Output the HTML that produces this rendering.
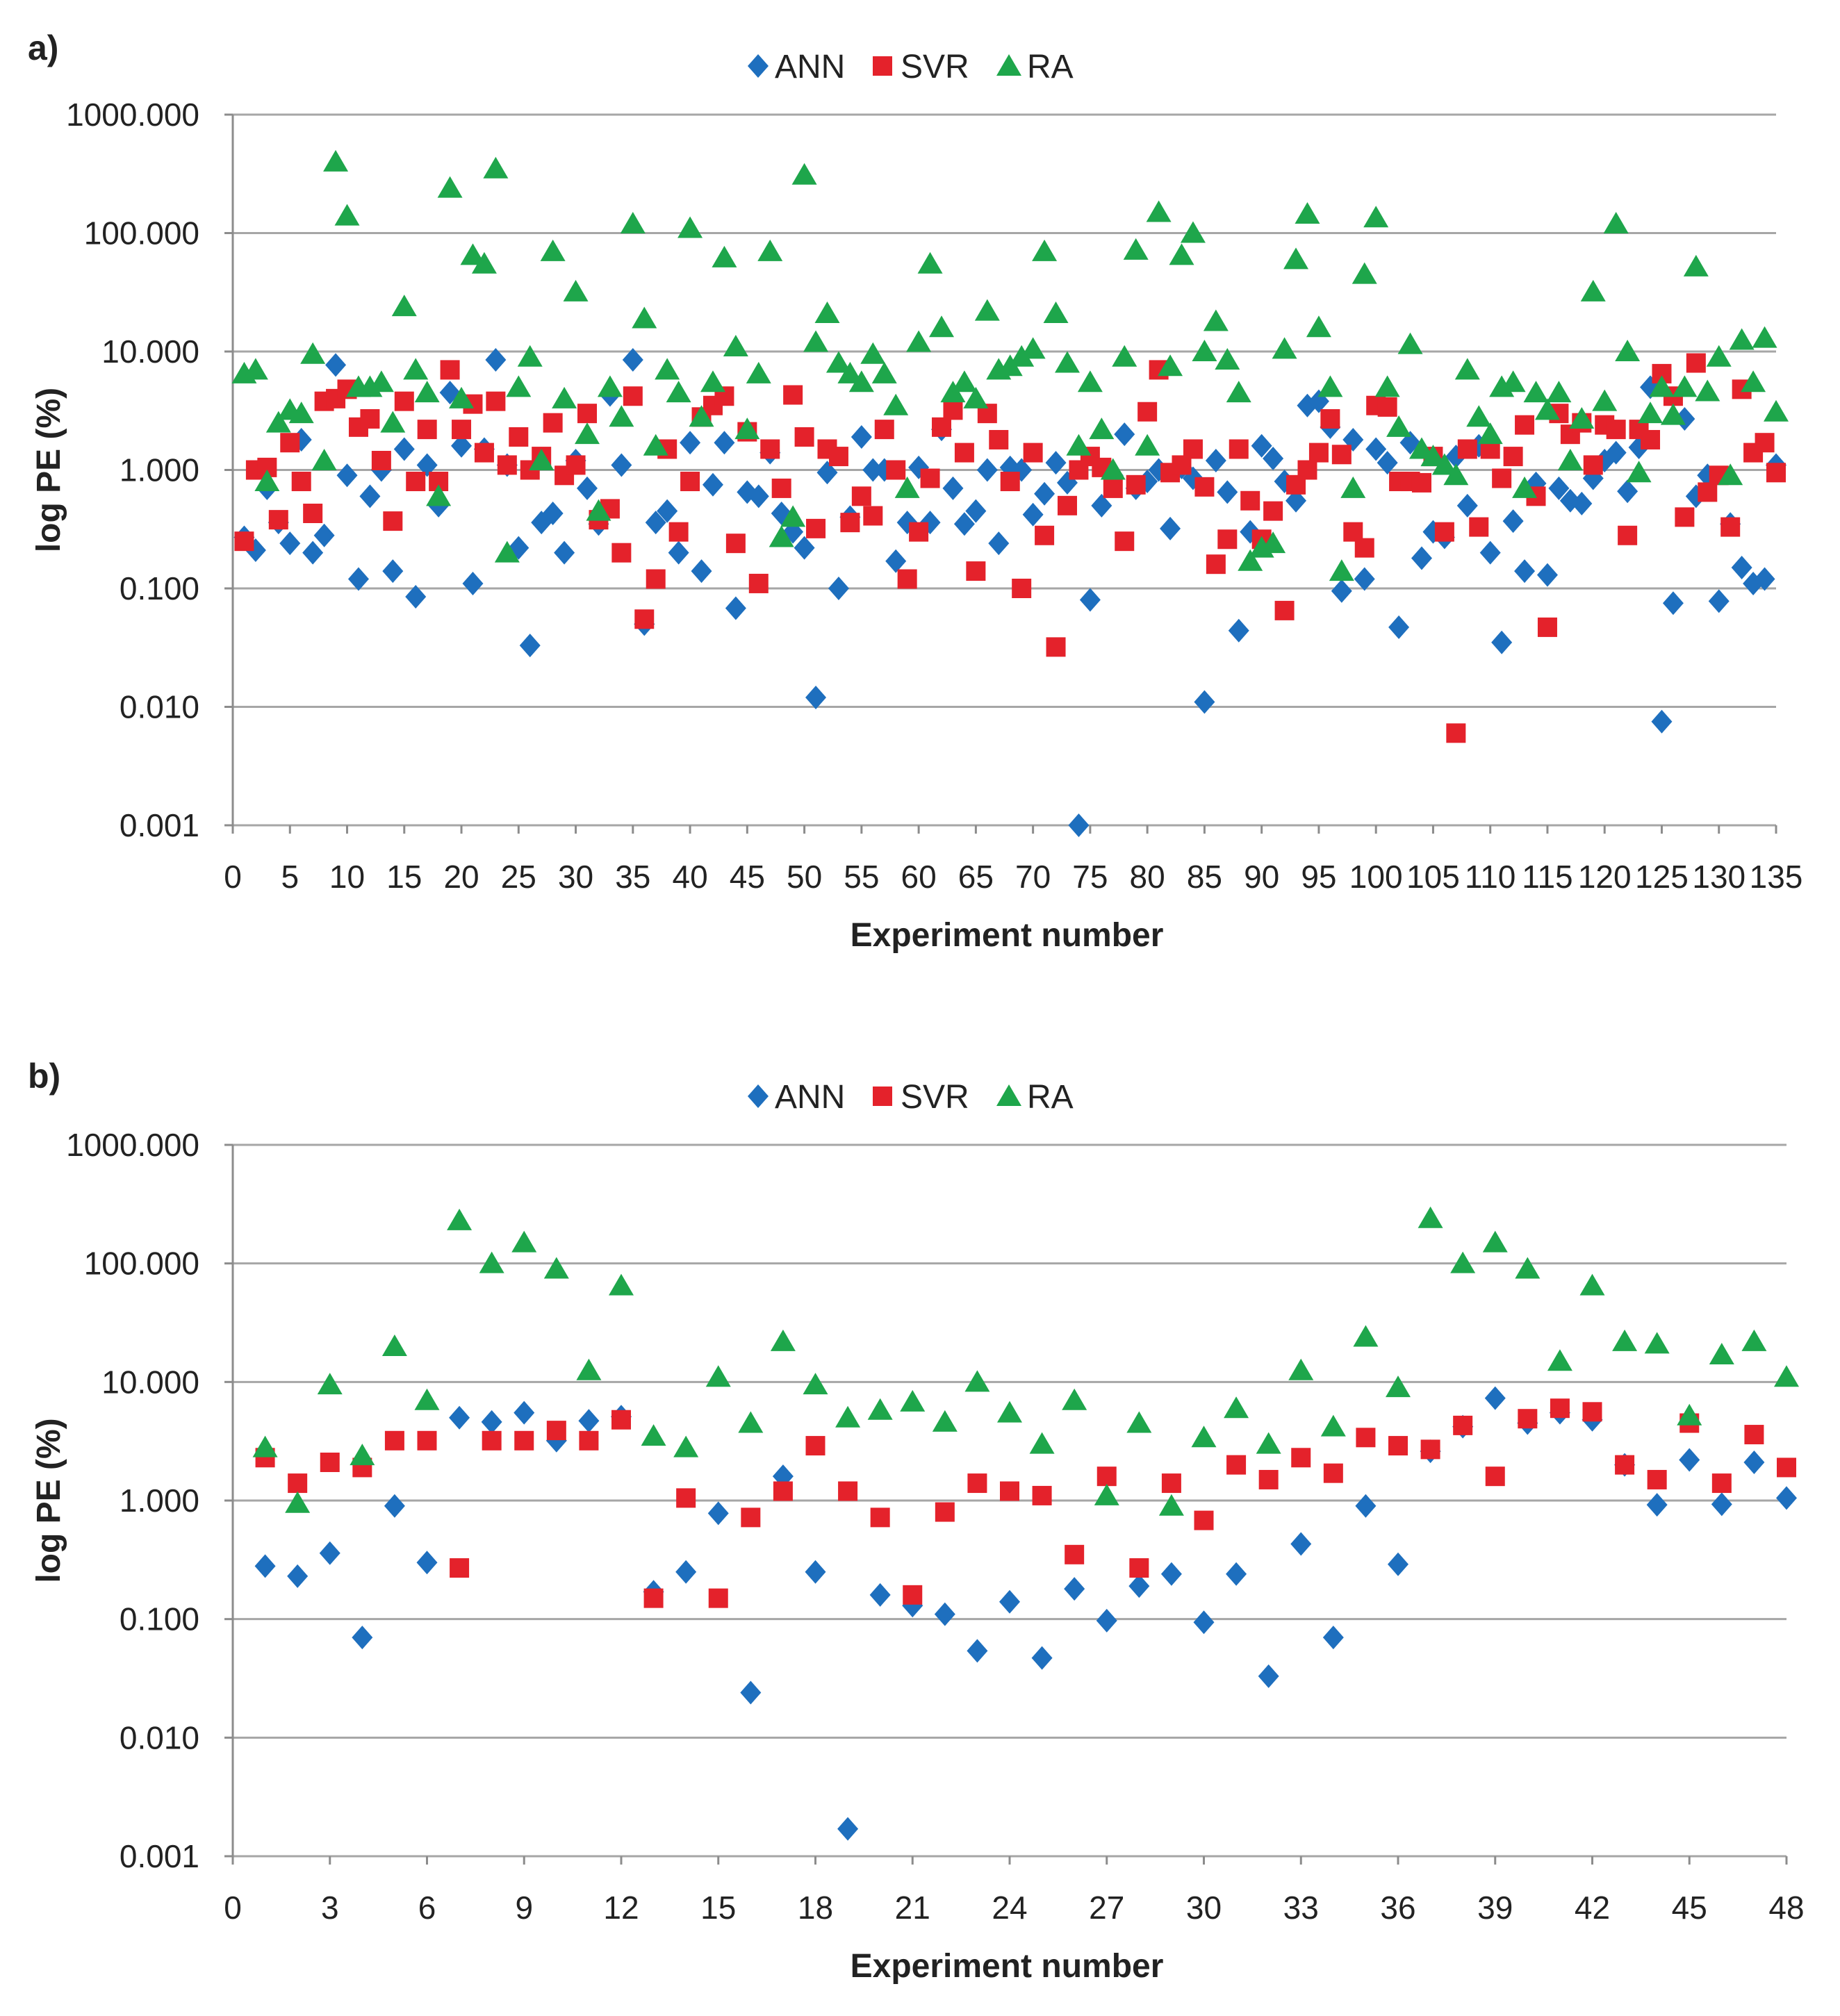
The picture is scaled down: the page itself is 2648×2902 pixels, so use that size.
<!DOCTYPE html>
<html><head><meta charset="utf-8"><style>
html,body{margin:0;padding:0;background:#fff}
svg{display:block;font-family:"Liberation Sans",sans-serif}
</style></head><body>
<svg id="c" xmlns="http://www.w3.org/2000/svg" width="2648" height="2902" viewBox="0 0 2648 2902"></svg>
<script>
const annA=[0.27,0.21,0.7,0.36,0.24,1.8,0.2,0.28,7.7,0.9,0.12,0.6,1.0,0.14,1.5,0.085,1.1,0.5,4.5,1.6,0.11,1.5,8.5,1.1,0.22,0.033,0.36,0.43,0.2,1.2,0.7,0.35,4.3,1.1,8.5,0.05,0.36,0.45,0.2,1.7,0.14,0.75,1.7,0.068,0.65,0.6,1.4,0.43,0.3,0.22,0.012,0.95,0.1,0.4,1.9,1.0,1.0,0.17,0.36,1.05,0.36,2.2,0.7,0.35,0.45,1.0,0.24,1.05,1.0,0.42,0.63,1.15,0.78,0.001,0.08,0.5,0.9,2.0,0.7,0.8,1.0,0.32,1.05,0.85,0.011,1.2,0.65,0.044,0.3,1.6,1.25,0.8,0.55,3.5,3.8,2.3,0.095,1.8,0.12,1.5,1.15,0.047,1.7,0.18,0.3,0.27,1.3,0.5,1.6,0.2,0.035,0.37,0.14,0.77,0.13,0.7,0.55,0.52,0.85,1.2,1.4,0.66,1.55,5,0.0075,0.075,2.7,0.6,0.9,0.078,0.35,0.15,0.11,0.12,1.1];
const svrA=[0.25,1.0,1.05,0.38,1.7,0.8,0.43,3.8,4.0,4.8,2.3,2.7,1.2,0.37,3.8,0.8,2.2,0.8,7.0,2.2,3.6,1.4,3.8,1.1,1.9,1.0,1.3,2.5,0.9,1.1,3.0,0.38,0.47,0.2,4.2,0.055,0.12,1.5,0.3,0.8,2.8,3.5,4.2,0.24,2.1,0.11,1.5,0.7,4.3,1.9,0.32,1.5,1.3,0.36,0.6,0.41,2.2,1.0,0.12,0.3,0.85,2.3,3.2,1.4,0.14,3.0,1.8,0.8,0.1,1.4,0.28,0.032,0.5,1.0,1.3,1.05,0.7,0.25,0.75,3.1,7.0,0.95,1.1,1.5,0.72,0.16,0.26,1.5,0.55,0.26,0.45,0.065,0.75,1.0,1.4,2.7,1.35,0.3,0.22,3.5,3.4,0.8,0.8,0.78,1.3,0.3,0.006,1.5,0.33,1.5,0.85,1.3,2.4,0.6,0.047,3.0,2.0,2.5,1.1,2.4,2.2,0.28,2.2,1.8,6.5,4.2,0.4,8.0,0.65,0.9,0.33,4.8,1.4,1.7,0.95];
const raA=[6.5,7,0.8,2.5,3.2,3,9.5,1.2,400,140,5,5,5.5,2.5,24,7,4.5,0.6,240,4,65,55,350,0.2,5,9,1.2,70,4,32,2,0.45,5,2.8,120,19,1.6,7,4.5,110,2.8,5.5,62,11,2.2,6.5,70,0.27,0.4,310,12,21,8,6.5,5.5,9.5,6.5,3.5,0.7,12,55,16,4.5,5.5,4,22,7,7.5,9,10.5,70,21,8,1.6,5.5,2.2,1,9,72,1.6,150,7.5,65,100,10,18,8.5,4.5,0.17,0.22,0.24,10.5,60,145,16,5,0.14,0.7,45,135,5,2.3,11.5,1.5,1.3,1.1,0.9,7,2.8,2,5,5.5,0.7,4.5,3.2,4.5,1.2,2.7,32,3.8,120,10,0.95,3,5,2.9,5,52,4.6,9,0.9,12.5,5.5,13,3.1];
const annB=[0.28,0.23,0.36,0.07,0.9,0.3,5,4.6,5.5,3.2,4.7,5.1,0.17,0.25,0.78,0.024,1.6,0.25,0.0017,0.16,0.13,0.11,0.054,0.14,0.047,0.18,0.097,0.19,0.24,0.094,0.24,0.033,0.43,0.07,0.9,0.29,2.6,4.2,7.3,4.5,5.5,4.8,2.0,0.92,2.2,0.93,2.1,1.05];
const svrB=[2.3,1.4,2.1,1.9,3.2,3.2,0.27,3.2,3.2,3.9,3.2,4.8,0.15,1.05,0.15,0.72,1.2,2.9,1.2,0.72,0.16,0.8,1.4,1.2,1.1,0.35,1.6,0.27,1.4,0.68,2.0,1.5,2.3,1.7,3.4,2.9,2.7,4.3,1.6,4.9,6.0,5.6,2.0,1.5,4.5,1.4,3.6,1.9];
const raB=[2.8,0.95,9.5,2.4,20,7,230,100,150,90,12.5,65,3.5,2.8,11,4.5,22,9.5,5,5.8,6.8,4.6,10,5.5,3,7,1.1,4.5,0.9,3.4,6,3,12.5,4.2,24,9,240,100,150,90,15,65,22,21,5.2,17,22,11];
const yTickLabels=["1000.000","100.000","10.000","1.000","0.100","0.010","0.001"];
const xTicksA=[0,5,10,15,20,25,30,35,40,45,50,55,60,65,70,75,80,85,90,95,100,105,110,115,120,125,130,135];
const xTicksB=[0,3,6,9,12,15,18,21,24,27,30,33,36,39,42,45,48];

const NS="http://www.w3.org/2000/svg";
const svg=document.getElementById('c');
function mk(tag,attrs,parent){const e=document.createElementNS(NS,tag);for(const k in attrs)e.setAttribute(k,attrs[k]);(parent||svg).appendChild(e);return e;}
const BLUE="#1e6fbe",RED="#e4222b",GREEN="#1ea64b";
function marker(g,type,x,y){
  let e;
  if(type==='d'){e=mk('polygon',{points:`${x},${y-17} ${x+15},${y} ${x},${y+17} ${x-15},${y}`,fill:BLUE},g);}
  else if(type==='s'){e=mk('rect',{x:x-14,y:y-14,width:28,height:28,fill:RED},g);}
  else {e=mk('polygon',{points:`${x},${y-17} ${x+18},${y+14} ${x-18},${y+14}`,fill:GREEN},g);}
  return e;
}
function chart(id,o){
  const g=mk('g',{});
  
  
  const L=335,R=o.right,T=o.top,B=o.bottom;
  const yS=v=>T+(3-Math.log10(v))*(B-T)/6;
  const xS=i=>L+i*(R-L)/o.xmax;
  yTickLabels.forEach((lab,k)=>{
    const y=T+k*(B-T)/6;
    const ln=mk('line',{x1:L,x2:R,y1:y,y2:y,stroke:"#a6a6a6","stroke-width":3},g);
    
    
    mk('line',{x1:L-12,x2:L,y1:y,y2:y,stroke:"#8c8c8c","stroke-width":3},g);
    const t=mk('text',{x:L-48,y:y+16,"text-anchor":"end","font-size":46,fill:"#222"},g);
    t.textContent=lab;
    
    
  });
  mk('line',{x1:L,x2:L,y1:T,y2:B,stroke:"#8c8c8c","stroke-width":3},g);
  o.xticks.forEach(v=>{
    const x=xS(v);
    mk('line',{x1:x,x2:x,y1:B,y2:B+12,stroke:"#8c8c8c","stroke-width":3},g);
    const t=mk('text',{x:x,y:B+90,"text-anchor":"middle","font-size":46,fill:"#222"},g);
    t.textContent=v;
    
    
  });
  const series=[[o.ann,'d','ann-point'],[o.svr,'s','svr-point'],[o.ra,'t','ra-point']];
  series.forEach(([arr,type,name])=>{
    arr.forEach((v,i)=>{
      const m=marker(g,type,xS(i+1),yS(v));
      
      
    });
  });
  const lg=mk('g',{},g);
  
  
  const ly=o.legendY;
  marker(lg,'d',1091,ly);
  let t=mk('text',{x:1115,y:ly+17,"font-size":48,fill:"#222"},lg);t.textContent="ANN";
  marker(lg,'s',1270,ly);
  t=mk('text',{x:1296,y:ly+17,"font-size":48,fill:"#222"},lg);t.textContent="SVR";
  marker(lg,'t',1452,ly);
  t=mk('text',{x:1478,y:ly+17,"font-size":48,fill:"#222"},lg);t.textContent="RA";
  t=mk('text',{x:40,y:o.labelY,"font-size":50,"font-weight":"bold",fill:"#222"},g);t.textContent=o.label;
  
  
  const cy=(T+B)/2;
  t=mk('text',{x:0,y:0,"font-size":48,"font-weight":"bold",fill:"#222","text-anchor":"middle",transform:`translate(86,${cy}) rotate(-90)`},g);t.textContent="log  PE (%)";
  
  
  t=mk('text',{x:1449,y:o.xTitleY,"font-size":48,"font-weight":"bold",fill:"#222","text-anchor":"middle"},g);t.textContent="Experiment number";
  
  
}
chart('chart-a',{right:2556,top:165,bottom:1188,xmax:135,xticks:xTicksA,ann:annA,svr:svrA,ra:raA,legendY:95,label:"a)",labelY:86,xTitleY:1362});
chart('chart-b',{right:2571,top:1648,bottom:2672,xmax:48,xticks:xTicksB,ann:annB,svr:svrB,ra:raB,legendY:1578,label:"b)",labelY:1566,xTitleY:2846});
</script>
</body></html>
